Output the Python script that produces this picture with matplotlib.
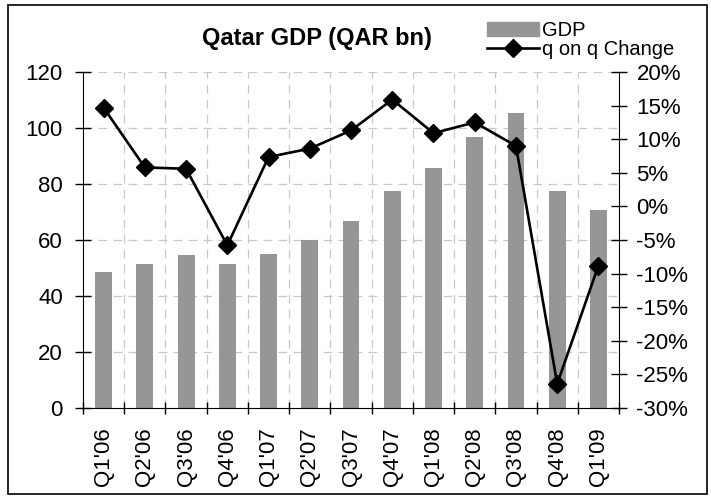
import numpy as np
import matplotlib.pyplot as plt
from matplotlib.patches import Rectangle, Patch
from matplotlib.lines import Line2D
from matplotlib.ticker import FuncFormatter

plt.rcParams['font.family'] = ['Liberation Sans', 'DejaVu Sans']

# data
quarters = ["Q1'06", "Q2'06", "Q3'06", "Q4'06", "Q1'07", "Q2'07", "Q3'07",
            "Q4'07", "Q1'08", "Q2'08", "Q3'08", "Q4'08", "Q1'09"]
gdp = [48.6, 51.4, 54.6, 51.4, 55.0, 60.0, 66.8, 77.5, 85.7, 96.8, 105.4, 77.5, 70.7]
qoq = [14.7, 5.8, 5.6, -5.8, 7.35, 8.6, 11.3, 15.9, 10.9, 12.5, 9.0, -26.4, -8.8]

fig = plt.figure(figsize=(7.11, 5), dpi=100)
ax = fig.add_axes([0.1167, 0.184, 0.754, 0.672])
x = np.arange(len(quarters))

ax.bar(x, gdp, width=0.41, color='#969696', zorder=2)
ax.set_xlim(-0.5, len(quarters) - 0.5)
ax.set_ylim(0, 120)
ax.set_yticks(np.arange(0, 121, 20))
ax.set_xticks(x)
ax.set_xticklabels(quarters, rotation=90, fontsize=16)
ax.set_xticks(np.arange(-0.5, len(quarters), 1), minor=True)
ax.tick_params(axis='x', which='major', length=0, pad=14)
ax.tick_params(axis='x', which='minor', length=8, direction='inout', width=1)
ax.tick_params(axis='y', length=11, direction='inout', width=1, labelsize=16, pad=9)

# dashed grid
for gx in np.arange(0.5, len(quarters) - 0.5, 1):
    ax.axvline(gx, color='#c8c8c8', lw=0.9, ls=(0, (7, 5)), zorder=1)
for gy in np.arange(20, 121, 20):
    ax.axhline(gy, color='#c8c8c8', lw=0.9, ls=(0, (7, 5)), zorder=1)

ax.spines['top'].set_visible(False)
ax.spines['right'].set_visible(False)

ax2 = ax.twinx()
ax2.plot(x, qoq, color='black', lw=1.9, marker='D', markersize=9, zorder=3)
ax2.set_ylim(-30, 20)
ax2.set_yticks(np.arange(-30, 21, 5))
ax2.yaxis.set_major_formatter(FuncFormatter(lambda v, p: '%d%%' % v))
ax2.tick_params(axis='y', length=11, direction='inout', width=1, labelsize=16, pad=7)
ax2.spines['top'].set_visible(False)
ax2.spines['left'].set_visible(False)
ax2.spines['bottom'].set_visible(False)

fig.text(0.446, 0.91, 'Qatar GDP (QAR bn)', ha='center', va='baseline',
         fontsize=17, fontweight='bold')

handles = [Patch(color='#969696', label='GDP'),
           Line2D([0], [0], color='black', lw=1.9, marker='D', markersize=9,
                  label='q on q Change')]
fig.legend(handles=handles, loc='upper left', bbox_to_anchor=(0.685, 0.958),
           frameon=False, fontsize=14.5, handlelength=2.6, handletextpad=0.15,
           borderpad=0, borderaxespad=0, labelspacing=0)

fig.patches.append(Rectangle((0.0113, 0.012), 0.983, 0.978, transform=fig.transFigure,
                             fill=False, edgecolor='black', lw=1.2))

fig.savefig('out.png', dpi=100)
